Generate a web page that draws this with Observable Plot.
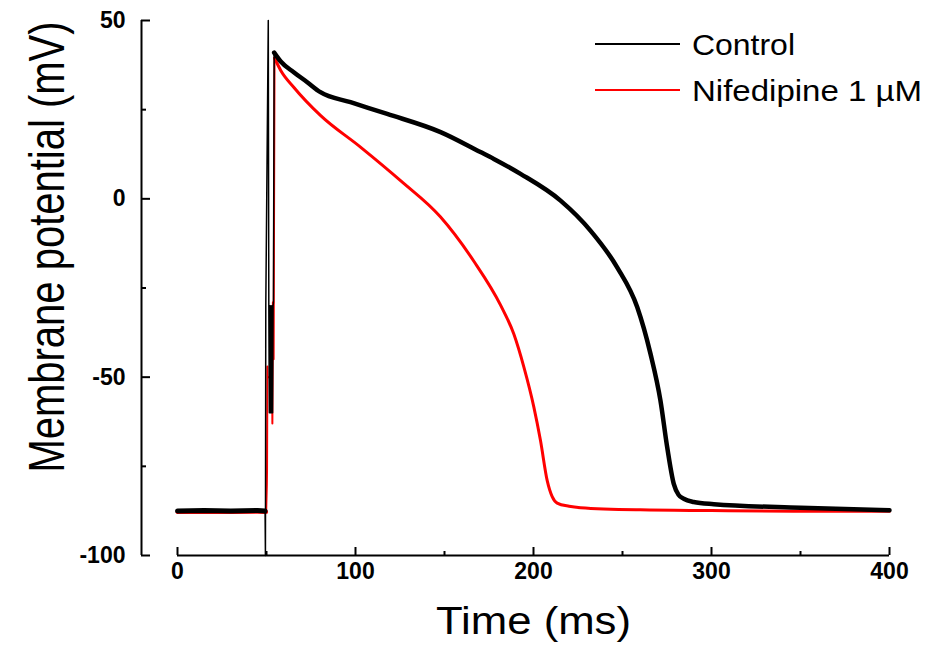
<!DOCTYPE html>
<html><head><meta charset="utf-8">
<script src="https://cdn.jsdelivr.net/npm/d3@7"></script>
<script src="https://cdn.jsdelivr.net/npm/@observablehq/plot@0.6"></script>
<style>
body{margin:0;background:#fff;}
#chart{width:926px;height:656px;}
</style></head><body>
<div id="chart"></div>
<script>
// Control trace: fast part (stimulus artifact + upstroke) and slow part (plateau/repolarization)
const controlFastTime = [45, 49.2, 49.4, 49.6, 51.0, 51.3, 51.6, 51.9, 52.2, 52.5, 52.8, 53.1, 53.4, 53.7, 53.9, 54.3];
const controlFastV    = [-87.5, -87.5, -100, -30, 50, -30, -60, -30, -60, -30, -60, -30, -60, -30, -29, 41];
const controlTime = [0, 15, 30, 45, 49.2];
const controlV    = [-87.5, -87.4, -87.5, -87.4, -87.5];
const controlSlowTime = [54.3, 58, 65.3, 72.9, 80.3, 97.2, 117.8, 147.8, 170.2, 177.7, 192.7, 215.2, 232, 247, 258.3, 265.7, 271.3, 275.1, 278.8, 281.5, 284.4, 290, 301.3, 350, 400];
const controlSlowV    = [41, 38.5, 35.5, 32.7, 29.9, 27.1, 23.8, 18.7, 13.1, 11.2, 7.0, -0.5, -8.9, -19.2, -30.4, -43.4, -56.5, -69.6, -79.9, -83.0, -84.1, -85.0, -85.6, -86.6, -87.3];
// Nifedipine 1 µM trace
const nifTime = [0, 15, 30, 45, 49.8];
const nifV    = [-87.8, -87.7, -87.8, -87.7, -87.8];
const nifFastTime = [49.8, 50.2, 50.3, 50.5, 50.6, 53.2, 53.3, 53.6, 54.0, 54.5];
const nifFastV    = [-87.8, -80, -76, -47, -50, -50, -63, -29, -45, 39.5];
const nifSlowTime = [54.5, 58, 65.3, 80.3, 102.8, 125.3, 147.8, 166.5, 181.5, 189, 194.6, 200.2, 203.9, 207.7, 210.5, 213.3, 220, 226.4, 260, 300, 350, 400];
const nifSlowV    = [39.5, 36.0, 31.3, 23.4, 14.5, 5.1, -5.1, -17.5, -29.8, -38.0, -47.2, -58.4, -67.7, -79.0, -83.5, -85.3, -86.2, -86.6, -87.2, -87.4, -87.6, -87.6];

const seriesNames = ["Control", "Nifedipine 1 µM"];
const seriesColors = ["#000000", "#ff0000"];
const xMajorTicks = [0, 100, 200, 300, 400];
const xMinorTicks = [50, 150, 250, 350];
const yMajorTicks = [50, 0, -50, -100];
const yMinorTicks = [25, -25, -75];
const xLabel = "Time (ms)";
const yLabel = "Membrane potential (mV)";

const rows = (ts, vs) => ts.map((t, i) => ({t, v: vs[i]}));
const control = rows(controlTime, controlV);
const controlFast = rows(controlFastTime, controlFastV);
const controlSlow = rows(controlSlowTime, controlSlowV);
const nif = rows(nifTime, nifV);
const nifFast = rows(nifFastTime, nifFastV);
const nifSlow = rows(nifSlowTime, nifSlowV);

const W = 926, H = 656, mL = 177, mR = 37, mT = 20, mB = 101;
const fw = W - mL - mR, fh = H - mT - mB;
const font = "'Liberation Sans', Arial, sans-serif";

const plot = Plot.plot({
  width: W, height: H,
  marginLeft: mL, marginRight: mR, marginTop: mT, marginBottom: mB,
  x: {domain: [0, 400], axis: null},
  y: {domain: [-100, 50], axis: null},
  style: {fontFamily: font, background: "white", color: "black"},
  marks: [
    Plot.line(nif, {x: "t", y: "v", stroke: seriesColors[1], strokeWidth: 4}),
    Plot.line(nifSlow, {x: "t", y: "v", stroke: seriesColors[1], strokeWidth: 3, curve: "monotone-x"}),
    Plot.line(nifFast, {x: "t", y: "v", stroke: seriesColors[1], strokeWidth: 2}),
    Plot.line(control, {x: "t", y: "v", stroke: seriesColors[0], strokeWidth: 5}),
    Plot.line(controlSlow, {x: "t", y: "v", stroke: seriesColors[0], strokeWidth: 4.5, curve: "monotone-x"}),
    Plot.line(controlFast, {x: "t", y: "v", stroke: seriesColors[0], strokeWidth: 1.5}),
    // y axis (offset left)
    Plot.ruleX([0], {dx: -36, stroke: "black", strokeWidth: 2}),
    Plot.ruleY(yMajorTicks, {insetLeft: -36, insetRight: fw + 36 - 9, stroke: "black", strokeWidth: 2}),
    Plot.ruleY(yMinorTicks, {insetLeft: -36, insetRight: fw + 36 - 5, stroke: "black", strokeWidth: 2}),
    Plot.text(yMajorTicks, {y: d => d, text: d => String(d), frameAnchor: "left", dx: -52, textAnchor: "end", fontWeight: "bold", fontSize: 23}),
    // x axis
    Plot.ruleY([-100], {stroke: "black", strokeWidth: 2}),
    Plot.ruleX(xMajorTicks, {insetTop: fh - 8, stroke: "black", strokeWidth: 2}),
    Plot.ruleX(xMinorTicks, {insetTop: fh - 4, stroke: "black", strokeWidth: 2}),
    Plot.text(xMajorTicks, {x: d => d, text: d => String(d), frameAnchor: "bottom", dy: 23, fontWeight: "bold", fontSize: 23}),
    // axis titles
    Plot.text([xLabel], {text: d => d, frameAnchor: "bottom", dy: 78, fontSize: 38}),
    Plot.text([yLabel], {text: d => d, frameAnchor: "left", textAnchor: "middle", dx: -130, dy: -41, rotate: -90, fontSize: 40})
  ]
});

document.getElementById("chart").appendChild(plot);

const svg = d3.select(plot);
svg.selectAll("text").each(function() {
  const t = this.textContent;
  if (t === xLabel) { this.setAttribute("textLength", 195); this.setAttribute("lengthAdjust", "spacingAndGlyphs"); }
  if (t === yLabel) {
    const tr = this.getAttribute("transform") || "";
    this.setAttribute("transform", tr + " scale(1,1.25)");
  }
});

// legend
const lg = svg.append("g").attr("font-family", font).attr("font-size", 30).attr("text-anchor", "start");
const legendY = [44, 90];
const legendW = [103, 230];
seriesNames.forEach((name, i) => {
  lg.append("line").attr("x1", 595).attr("x2", 680).attr("y1", legendY[i]).attr("y2", legendY[i])
    .attr("stroke", seriesColors[i]).attr("stroke-width", 2);
  lg.append("text").attr("x", 692).attr("y", legendY[i] + 11).attr("fill", "black").attr("text-anchor", "start")
    .attr("textLength", legendW[i]).attr("lengthAdjust", "spacingAndGlyphs").text(name);
});
</script>
</body></html>
